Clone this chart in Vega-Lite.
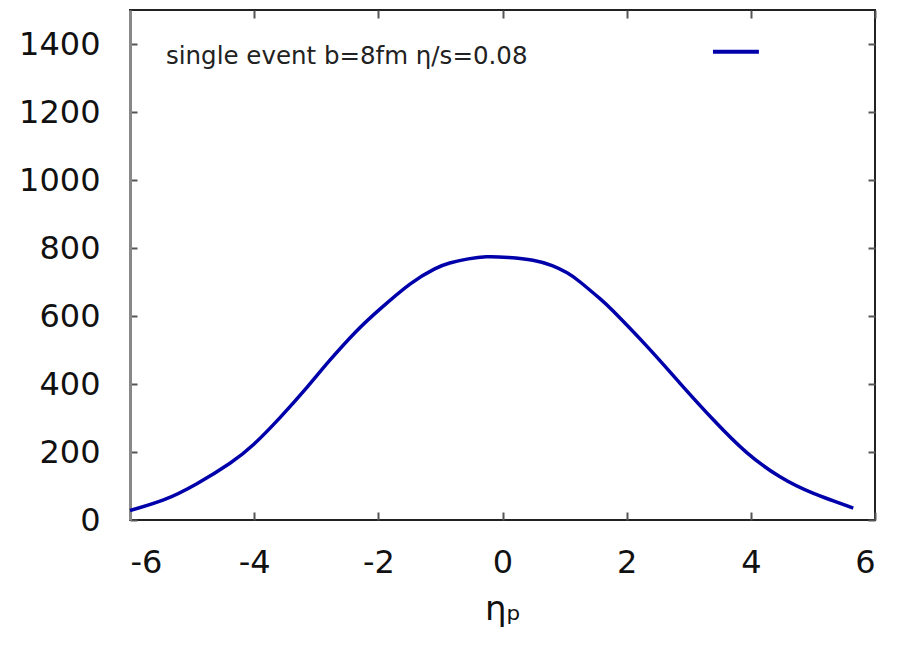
{
  "$schema": "https://vega.github.io/schema/vega-lite/v6.json",
  "width": 745,
  "height": 510,
  "autosize": "none",
  "padding": {"left": 130, "top": 10, "right": 25, "bottom": 133},
  "background": "white",
  "config": {
    "view": {"stroke": "#222", "strokeWidth": 2},
    "axis": {"grid": false, "labelFont": "DejaVu Sans", "titleFont": "DejaVu Sans", "labelColor": "#111", "titleColor": "#111", "domain": false, "tickColor": "#555", "tickWidth": 2}
  },
  "datasets": {
    "curve": [
      {"eta": -6.0, "n": 28},
      {"eta": -5.46, "n": 59},
      {"eta": -4.93, "n": 106},
      {"eta": -4.39, "n": 167},
      {"eta": -4.01, "n": 222},
      {"eta": -3.58, "n": 302},
      {"eta": -3.15, "n": 390},
      {"eta": -2.78, "n": 470},
      {"eta": -2.35, "n": 556},
      {"eta": -1.97, "n": 621},
      {"eta": -1.49, "n": 694},
      {"eta": -1.1, "n": 738},
      {"eta": -0.85, "n": 756},
      {"eta": -0.55, "n": 768},
      {"eta": -0.26, "n": 774},
      {"eta": 0.1, "n": 772},
      {"eta": 0.49, "n": 764},
      {"eta": 0.8, "n": 748},
      {"eta": 1.04, "n": 727},
      {"eta": 1.25, "n": 700},
      {"eta": 1.57, "n": 651},
      {"eta": 1.79, "n": 613},
      {"eta": 2.32, "n": 512},
      {"eta": 2.86, "n": 402},
      {"eta": 3.4, "n": 294},
      {"eta": 3.93, "n": 199},
      {"eta": 4.47, "n": 127},
      {"eta": 5.01, "n": 78},
      {"eta": 5.65, "n": 35}
    ],
    "key": [
      {"x1": 3.39, "x2": 4.13, "y": 1377, "tx": -5.42, "ty": 1362, "label": "single event b=8fm η/s=0.08"}
    ]
  },
  "layer": [
    {
      "data": {"name": "curve"},
      "mark": {"type": "line", "color": "#0000aa", "strokeWidth": 3.5, "interpolate": "natural"},
      "encoding": {
        "x": {"field": "eta", "type": "quantitative", "scale": {"domain": [-6, 6], "nice": false, "zero": false},
              "axis": {"orient": "bottom", "values": [-6, -4, -2, 0, 2, 4, 6], "labelExpr": "'' + datum.value", "tickSize": -8, "labelPadding": 35, "labelFontSize": 32, "title": "ηₚ", "titleFontSize": 34, "titleFontWeight": "normal", "titlePadding": 14}},
        "y": {"field": "n", "type": "quantitative", "scale": {"domain": [0, 1500], "nice": false},
              "axis": {"orient": "left", "values": [0, 200, 400, 600, 800, 1000, 1200, 1400], "labelExpr": "'' + datum.value", "domain": true, "domainColor": "#888", "domainWidth": 3, "tickSize": -7, "labelPadding": 37, "labelFontSize": 32, "title": null}}
      }
    },
    {
      "data": {"name": "key"},
      "mark": {"type": "rule", "color": "#0000aa", "strokeWidth": 4},
      "encoding": {
        "x": {"field": "x1", "type": "quantitative", "axis": {"orient": "top", "values": [-6, -4, -2, 0, 2, 4, 6], "labels": false, "tickSize": -8, "title": null}},
        "x2": {"field": "x2"},
        "y": {"field": "y", "type": "quantitative", "axis": {"orient": "right", "values": [0, 200, 400, 600, 800, 1000, 1200, 1400], "labels": false, "tickSize": -7, "title": null}}
      }
    },
    {
      "data": {"name": "key"},
      "mark": {"type": "text", "align": "left", "baseline": "middle", "font": "DejaVu Sans", "fontSize": 24.5, "color": "#222"},
      "encoding": {
        "x": {"field": "tx", "type": "quantitative", "axis": null},
        "y": {"field": "ty", "type": "quantitative", "axis": null},
        "text": {"field": "label"}
      }
    }
  ],
  "resolve": {"axis": {"x": "independent", "y": "independent"}}
}
